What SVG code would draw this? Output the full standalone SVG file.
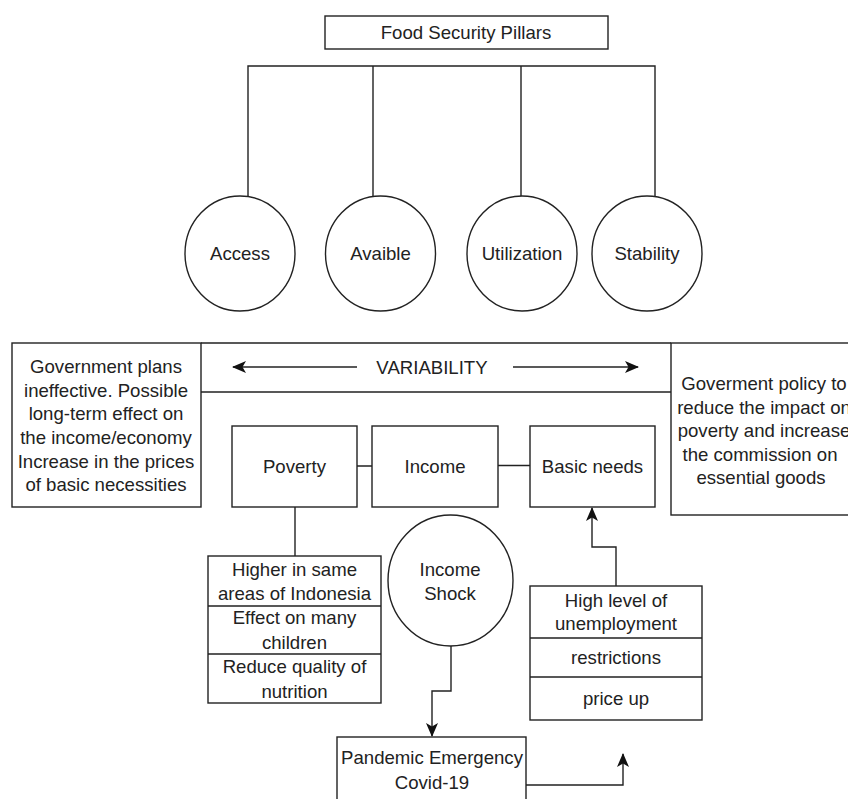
<svg xmlns="http://www.w3.org/2000/svg" width="848" height="799" viewBox="0 0 848 799">
<style>
.s{fill:#fff;stroke:#222;stroke-width:1.4}
.l{fill:none;stroke:#222;stroke-width:1.4}
text{font-family:"Liberation Sans",Arial,sans-serif;font-size:18.6px;fill:#222;text-anchor:middle;dominant-baseline:central}
</style>
<defs>
<marker id="a" viewBox="0 0 14 12" refX="13" refY="6" markerWidth="14" markerHeight="12" markerUnits="userSpaceOnUse" orient="auto">
<path d="M0,0 L14,6 L0,12 L3.5,6 Z" fill="#111"/>
</marker>
</defs>
<rect width="848" height="799" fill="#fff"/>
<g id="connectors">
<path class="l" d="M248,196 V66 H655 V196 M373,66 V196 M521,66 V196"/>
<path class="l" d="M357,466 H372 M498,465.5 H530"/>
<path class="l" d="M295,507 V556"/>
<path class="l" d="M451,646 V691 H432 V736" marker-end="url(#a)"/>
<path class="l" d="M526,785 H623 V754" marker-end="url(#a)"/>
<path class="l" d="M616,586 V547 H592 V508" marker-end="url(#a)"/>
<path class="l" d="M357,367 H233" marker-end="url(#a)"/>
<path class="l" d="M513,367 H638" marker-end="url(#a)"/>
</g>
<g id="title"><rect class="s" x="325" y="16" width="283" height="33"/><text x="466" y="32">Food Security Pillars</text></g>
<g id="access"><ellipse class="s" cx="240" cy="253.5" rx="55" ry="57.5"/><text x="240" y="253">Access</text></g>
<g id="avaible"><ellipse class="s" cx="380.5" cy="253.5" rx="55" ry="57.5"/><text x="380.5" y="253">Avaible</text></g>
<g id="utilization"><ellipse class="s" cx="522" cy="253.5" rx="55" ry="57.5"/><text x="522" y="253">Utilization</text></g>
<g id="stability"><ellipse class="s" cx="647" cy="253.5" rx="55" ry="57.5"/><text x="647" y="253">Stability</text></g>
<g id="variability"><path class="l" d="M201,343 H671 M201,392 H671"/><text x="432" y="367">VARIABILITY</text></g>
<g id="left-box"><rect class="s" x="12" y="343" width="189" height="164"/>
<text x="106" y="366">Government plans</text>
<text x="106" y="390">ineffective. Possible</text>
<text x="106" y="413">long-term effect on</text>
<text x="106" y="437">the income/economy</text>
<text x="106" y="461">Increase in the prices</text>
<text x="106" y="484">of basic necessities</text>
</g>
<g id="right-box"><rect class="s" x="671" y="343" width="200" height="172"/>
<text x="764" y="383">Goverment policy to</text>
<text x="764" y="407">reduce the impact on</text>
<text x="764" y="430">poverty and increase</text>
<text x="760" y="454">the commission on</text>
<text x="761" y="477">essential goods</text>
</g>
<g id="poverty"><rect class="s" x="232" y="426" width="125" height="81"/><text x="294.5" y="466">Poverty</text></g>
<g id="income"><rect class="s" x="372" y="426" width="126" height="81"/><text x="435" y="466">Income</text></g>
<g id="basic-needs"><rect class="s" x="530" y="426" width="125" height="81"/><text x="592.5" y="466">Basic needs</text></g>
<g id="poverty-list"><rect class="s" x="208" y="556" width="173" height="147"/><path class="l" d="M208,606 H381 M208,654 H381"/>
<text x="294.5" y="569">Higher in same</text>
<text x="294.5" y="593">areas of Indonesia</text>
<text x="294.5" y="617">Effect on many</text>
<text x="294.5" y="642">children</text>
<text x="294.5" y="666">Reduce quality of</text>
<text x="294.5" y="691">nutrition</text>
</g>
<g id="income-shock"><ellipse class="s" cx="450.5" cy="580.5" rx="62.5" ry="65.5"/><text x="450" y="569">Income</text><text x="450" y="593">Shock</text></g>
<g id="unemployment-list"><rect class="s" x="530" y="586" width="172" height="134"/><path class="l" d="M530,638 H702 M530,677 H702"/>
<text x="616" y="600">High level of</text>
<text x="616" y="623">unemployment</text>
<text x="616" y="657">restrictions</text>
<text x="616" y="698">price up</text>
</g>
<g id="pandemic"><rect class="s" x="337" y="737" width="189" height="80"/><text x="432" y="757">Pandemic Emergency</text><text x="432" y="782">Covid-19</text></g>
</svg>
